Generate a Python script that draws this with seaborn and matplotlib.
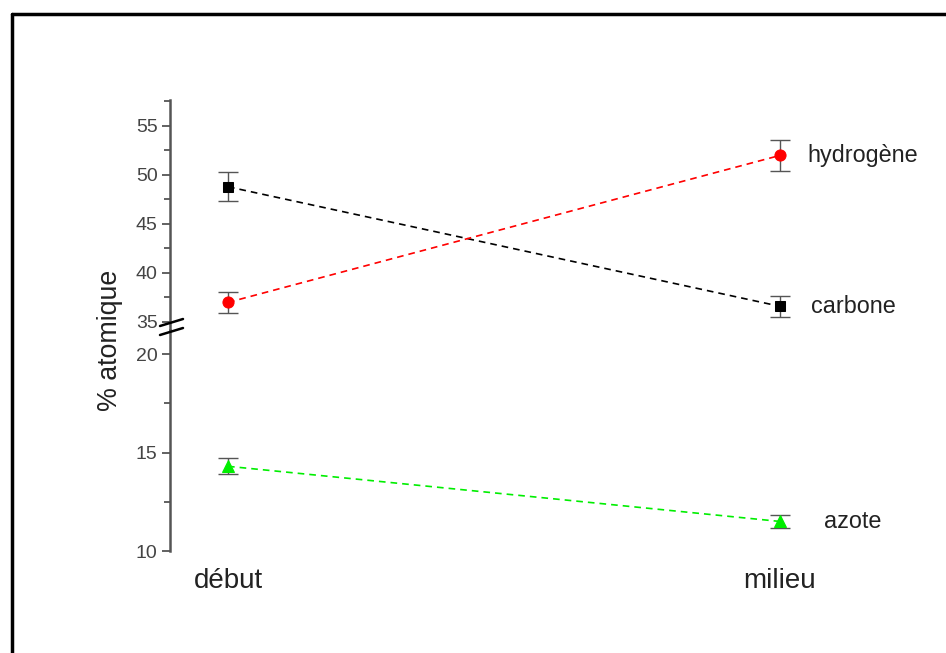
import matplotlib
matplotlib.use("Agg")
import matplotlib.pyplot as plt
from matplotlib.lines import Line2D
from matplotlib.ticker import MultipleLocator
import seaborn as sns
import pandas as pd

sns.set_theme(style="white")
plt.rcParams['font.family'] = ['Liberation Sans', 'DejaVu Sans']

phases = ["début", "milieu"]
carbone = [48.8, 36.6]
carbone_err = [1.5, 1.1]
hydrogene = [37.0, 52.0]
hydrogene_err = [1.1, 1.6]
azote = [14.3, 11.5]
azote_err = [0.4, 0.35]
names = ["carbone", "hydrogène", "azote"]

W, H = 946, 653
fig = plt.figure(figsize=(W / 100, H / 100), dpi=100)

def fx(px):
    return px / W

def fy(py):
    return 1 - py / H

x_left, x_right = 170, 940
y_top, y_mid, y_bot = 100, 330, 551
ax_up = fig.add_axes([fx(x_left), fy(y_mid), fx(x_right - x_left), (y_mid - y_top) / H])
ax_lo = fig.add_axes([fx(x_left), fy(y_bot), fx(x_right - x_left), (y_bot - y_mid) / H])

xs = [0, 1]
ecol = "#555555"
text_col = "#222222"

def draw(ax, vals, errs, color, marker, ms):
    df = pd.DataFrame({"x": xs, "y": vals})
    ax.errorbar(xs, vals, yerr=errs, fmt="none", ecolor=ecol, elinewidth=1.0,
                capsize=7.5, capthick=1.0, zorder=2)
    sns.lineplot(data=df, x="x", y="y", ax=ax, color=color, linestyle=(0, (4, 3)),
                 linewidth=1.2, marker=marker, markersize=ms, markeredgecolor=color,
                 markerfacecolor=color, zorder=3)

draw(ax_up, carbone, carbone_err, "black", "s", 7)
draw(ax_up, hydrogene, hydrogene_err, "#ff0000", "o", 8)
draw(ax_lo, azote, azote_err, "#00ee00", "^", 8)

xmin = -(228 - x_left) / 552
xmax = 1 + (x_right - 780) / 552
ppu_up = 9.8
ax_up.set_ylim(35 - (y_mid - 322) / ppu_up, 35 + (322 - y_top) / ppu_up)
ppu_lo = 19.7
ax_lo.set_ylim(10, 10 + (y_bot - y_mid) / ppu_lo)

for ax in (ax_up, ax_lo):
    ax.set_xlim(xmin, xmax)
    ax.set_facecolor("none")
    for s in ("top", "right", "bottom"):
        ax.spines[s].set_visible(False)
    ax.spines["left"].set_color(ecol)
    ax.spines["left"].set_linewidth(1.8)
    ax.set_xlabel("")
    ax.set_ylabel("")
    ax.tick_params(axis="y", which="major", direction="out", length=6, width=1.3,
                   color=ecol, labelsize=14, labelcolor="#444444", pad=3, left=True)
    ax.tick_params(axis="y", which="minor", direction="out", length=4, width=1.3,
                   color=ecol, left=True)

ax_up.yaxis.set_major_locator(MultipleLocator(5))
ax_up.yaxis.set_minor_locator(MultipleLocator(2.5))
ax_lo.yaxis.set_major_locator(MultipleLocator(5))
ax_lo.yaxis.set_minor_locator(MultipleLocator(2.5))

ax_up.set_xticks([])
ax_lo.set_xticks(xs)
ax_lo.set_xticklabels(phases, fontsize=20, color=text_col)
ax_lo.tick_params(axis="x", length=0, pad=12)

# series labels
ax_up.text(1.05, hydrogene[1], names[1], fontsize=16.8, color=text_col, va="center", ha="left")
ax_up.text(1.057, carbone[1], names[0], fontsize=16.8, color=text_col, va="center", ha="left")
ax_lo.text(1.08, azote[1], names[2], fontsize=16.8, color=text_col, va="center", ha="left")

fig.text(fx(110), fy(340), "% atomique", rotation=90, fontsize=19.3, color=text_col,
         ha="center", va="center")

# break marks
for (x0, y0, x1, y1) in [(160, 326, 183, 319), (160, 335, 183, 328)]:
    fig.add_artist(Line2D([fx(x0), fx(x1)], [fy(y0), fy(y1)], color="black", lw=1.8))

# frame (top and left)
fig.add_artist(Line2D([fx(11.5), fx(W + 5)], [fy(13.5), fy(13.5)], color="black", lw=2.5))
fig.add_artist(Line2D([fx(11.5), fx(11.5)], [fy(13.5), fy(H + 5)], color="black", lw=2.5))

fig.savefig("out.png", dpi=100)
